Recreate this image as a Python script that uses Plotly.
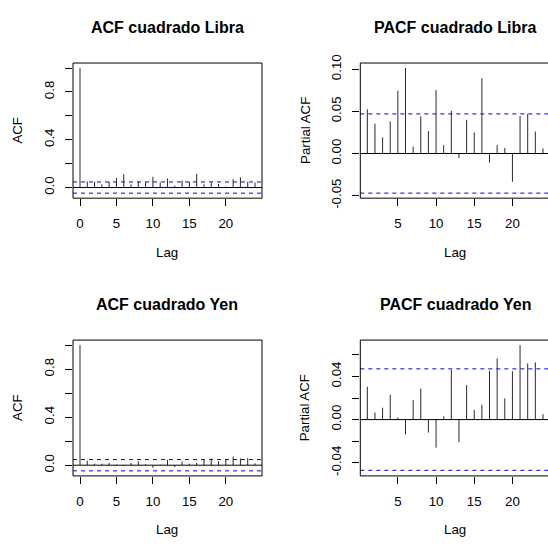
import plotly.graph_objects as go

# Lags
acf_lags = list(range(0, 25))
pacf_lags = list(range(1, 25))

# ACF / PACF of squared returns
acf_libra = [1.0, 0.051, 0.048, 0.027, 0.048, 0.080, 0.112, 0.027, 0.050, 0.043,
             0.090, 0.043, 0.075, 0.016, 0.059, 0.048, 0.115, 0.027, 0.043, 0.032,
             0.008, 0.070, 0.085, 0.048, 0.043]
pacf_libra = [0.0525, 0.0354, 0.019, 0.038, 0.0745, 0.1015, 0.008, 0.044, 0.0266,
              0.0753, 0.0099, 0.0506, -0.0053, 0.040, 0.025, 0.0894, -0.011, 0.0099,
              0.0065, -0.0335, 0.0445, 0.047, 0.026, 0.006]
acf_yen = [1.0, 0.037, 0.013, 0.013, 0.019, 0.005, -0.008, 0.019, 0.032, 0.008,
           -0.021, 0.005, 0.045, -0.016, 0.032, 0.013, 0.019, 0.045, 0.056, 0.032,
           0.045, 0.072, 0.056, 0.059, 0.016]
pacf_yen = [0.0304, 0.0066, 0.011, 0.023, 0.002, -0.0137, 0.018, 0.0287, -0.012,
            -0.026, 0.003, 0.046, -0.021, 0.032, 0.009, 0.0137, 0.045, 0.0567, 0.0197,
            0.0448, 0.069, 0.052, 0.053, 0.005]

# 95% confidence bound
ci_bound = 0.047

titles = ["ACF cuadrado Libra", "PACF cuadrado Libra",
          "ACF cuadrado Yen", "PACF cuadrado Yen"]
ylabels = ["ACF", "Partial ACF", "ACF", "Partial ACF"]
xlabel = "Lag"

acf_ticks = [0, 0.2, 0.4, 0.6, 0.8, 1.0]
acf_ticktext = ["0.0", "", "0.4", "", "0.8", ""]
pacf_libra_ticks = [-0.05, 0.0, 0.05, 0.10]
pacf_libra_ticktext = ["-0.05", "0.00", "0.05", "0.10"]
pacf_yen_ticks = [-0.04, -0.02, 0.0, 0.02, 0.04, 0.06]
pacf_yen_ticktext = ["-0.04", "", "0.00", "", "0.04", ""]
acf_xticks = [0, 5, 10, 15, 20]
pacf_xticks = [5, 10, 15, 20]

W = H = 548
FONT = "Liberation Sans, Arial, sans-serif"

# panel boxes in pixels (left, right, top, bottom)
panels = [
    dict(lags=acf_lags, vals=acf_libra, box=(73, 262, 57, 197),
         xr=[-0.96, 24.96], yr=[-0.089, 1.042], yt=acf_ticks, ytt=acf_ticktext,
         xt=acf_xticks),
    dict(lags=pacf_lags, vals=pacf_libra, box=(360.3, 550, 57, 197),
         xr=[0.08, 24.92], yr=[-0.053, 0.1074], yt=pacf_libra_ticks,
         ytt=pacf_libra_ticktext, xt=pacf_xticks),
    dict(lags=acf_lags, vals=acf_yen, box=(73, 262, 344, 484.7),
         xr=[-0.96, 24.96], yr=[-0.089, 1.042], yt=acf_ticks, ytt=acf_ticktext,
         xt=acf_xticks),
    dict(lags=pacf_lags, vals=pacf_yen, box=(360.3, 550, 344, 484.7),
         xr=[0.08, 24.92], yr=[-0.0522, 0.0737], yt=pacf_yen_ticks,
         ytt=pacf_yen_ticktext, xt=pacf_xticks),
]

fig = go.Figure()
shapes = []
annotations = []

for i, p in enumerate(panels):
    n = i + 1
    xa = "x" if n == 1 else f"x{n}"
    ya = "y" if n == 1 else f"y{n}"
    l, r, t, b = p["box"]
    # the plotting region may run past the page edge: clip the domain at 1
    r_vis = min(r, W)
    x0, x1 = p["xr"]
    x1_vis = x0 + (x1 - x0) * (r_vis - l) / (r - l)

    # one vertical spike per lag
    xs, ys = [], []
    for lag, v in zip(p["lags"], p["vals"]):
        xs += [lag, lag, None]
        ys += [0, v, None]
    fig.add_trace(go.Scatter(x=xs, y=ys, mode="lines",
                             line=dict(color="#2a2a2a", width=1),
                             hoverinfo="skip", showlegend=False,
                             xaxis=xa, yaxis=ya))

    dom_x = [l / W, r_vis / W]
    dom_y = [1 - b / H, 1 - t / H]
    axis_common = dict(showgrid=False, zeroline=False, showline=False,
                       ticks="outside", ticklen=7, tickcolor="black",
                       tickwidth=1,
                       tickfont=dict(family=FONT, size=13.3, color="black"))
    fig.layout[f"xaxis{n if n > 1 else ''}"] = dict(
        domain=dom_x, range=[x0, x1_vis], anchor=ya, tickvals=p["xt"],
        ticktext=[str(v) for v in p["xt"]], ticklabelstandoff=6, **axis_common)
    fig.layout[f"yaxis{n if n > 1 else ''}"] = dict(
        domain=dom_y, range=p["yr"], anchor=xa, tickvals=p["yt"],
        ticktext=p["ytt"], tickangle=-90, ticklabelstandoff=6, **axis_common)

    # zero line and confidence bounds
    shapes.append(dict(type="line", xref=f"{xa} domain", yref=ya, x0=0, x1=1,
                       y0=0, y1=0, line=dict(color="black", width=1)))
    for c in (ci_bound, -ci_bound):
        shapes.append(dict(type="line", xref=f"{xa} domain", yref=ya, x0=0, x1=1,
                           y0=c, y1=c,
                           line=dict(color="blue", width=1, dash="4px,4px")))
    # frame
    shapes.append(dict(type="rect", xref="paper", yref="paper",
                       x0=l / W, x1=r / W, y0=1 - b / H, y1=1 - t / H,
                       line=dict(color="black", width=1)))

    cx = (l + r) / 2
    annotations.append(dict(text=f"<b>{titles[i]}</b>", xref="paper", yref="paper",
                            x=cx / W, y=1 - (t - 37) / H, showarrow=False,
                            xanchor="center", yanchor="middle",
                            font=dict(family=FONT, size=16, color="black")))
    annotations.append(dict(text=xlabel, xref="paper", yref="paper",
                            x=cx / W, y=1 - (b + 56) / H, showarrow=False,
                            xanchor="center", yanchor="middle",
                            font=dict(family=FONT, size=13.3, color="black")))
    annotations.append(dict(text=ylabels[i], xref="paper", yref="paper",
                            x=(l - 55) / W, y=1 - ((t + b) / 2) / H,
                            showarrow=False, textangle=-90,
                            xanchor="center", yanchor="middle",
                            font=dict(family=FONT, size=13.3, color="black")))

fig.update_layout(width=W, height=H, margin=dict(l=0, r=0, t=0, b=0),
                  paper_bgcolor="white", plot_bgcolor="white",
                  shapes=shapes, annotations=annotations,
                  font=dict(family=FONT))

fig.write_html("out.html")
